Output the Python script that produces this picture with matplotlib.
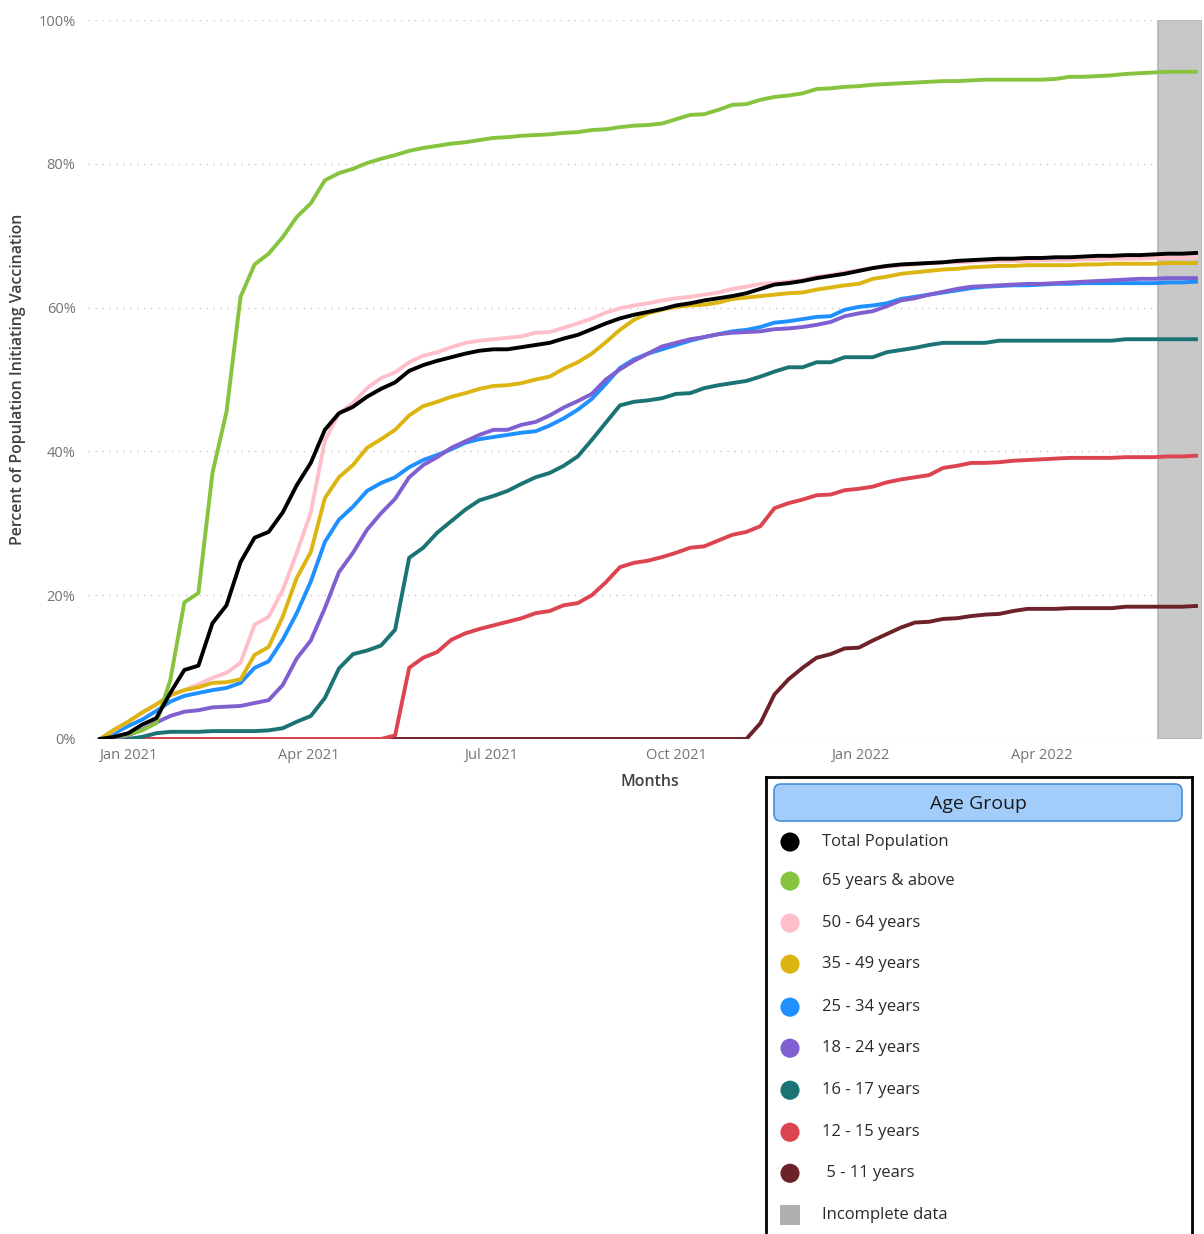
import pandas as pd
import numpy as np
import matplotlib
matplotlib.use("Agg")
import matplotlib.pyplot as plt
import matplotlib.dates as mdates
from matplotlib.patches import FancyBboxPatch, Rectangle

plt.rcParams["font.family"] = ["Open Sans", "DejaVu Sans"]

# weekly points, Dec 2020 - Jun 2022
start_date = "2020-12-18"
n_weeks = 79
incomplete_start = "2022-05-29"

labels = ["Total Population", "65 years & above", "50 - 64 years", "35 - 49 years",
          "25 - 34 years", "18 - 24 years", "16 - 17 years", "12 - 15 years", " 5 - 11 years"]
colors = ["#000000", "#86c440", "#ffbfca", "#dcb512", "#1e90ff", "#8060d0",
          "#1b7373", "#dc4450", "#6d2128"]

total = [0, 0.3, 0.8, 2, 2.9, 6.4, 9.6, 10.2, 16.1, 18.6, 24.6, 28, 28.8, 31.5, 35.3, 38.4,
         43, 45.3, 46.2, 47.6, 48.7, 49.6, 51.2, 52, 52.6, 53.1, 53.6, 54, 54.2, 54.2, 54.5,
         54.8, 55.1, 55.7, 56.2, 57, 57.8, 58.5, 59, 59.4, 59.8, 60.3, 60.6, 61, 61.3, 61.6,
         62, 62.6, 63.2, 63.4, 63.7, 64.1, 64.4, 64.7, 65.1, 65.5, 65.8, 66, 66.1, 66.2, 66.3,
         66.5, 66.6, 66.7, 66.8, 66.8, 66.9, 66.9, 67, 67, 67.1, 67.2, 67.2, 67.3, 67.3, 67.4,
         67.5, 67.5, 67.6]
age_65 = [0, 0.3, 0.6, 1.2, 2.2, 8.2, 19, 20.3, 37, 45.5, 61.5, 66, 67.5, 69.8, 72.6, 74.5,
          77.7, 78.7, 79.3, 80.1, 80.7, 81.2, 81.8, 82.2, 82.5, 82.8, 83, 83.3, 83.6, 83.7,
          83.9, 84, 84.1, 84.3, 84.4, 84.7, 84.8, 85.1, 85.3, 85.4, 85.6, 86.2, 86.8, 86.9,
          87.5, 88.2, 88.3, 88.9, 89.3, 89.5, 89.8, 90.4, 90.5, 90.7, 90.8, 91, 91.1, 91.2,
          91.3, 91.4, 91.5, 91.5, 91.6, 91.7, 91.7, 91.7, 91.7, 91.7, 91.8, 92.1, 92.1, 92.2,
          92.3, 92.5, 92.6, 92.7, 92.8, 92.8, 92.8]
age_50 = [0, 1.2, 2.4, 3.6, 4.8, 6.1, 6.8, 7.6, 8.5, 9.2, 10.6, 15.9, 17, 20.7, 25.9, 31.5,
          41.5, 45.3, 46.7, 48.8, 50.2, 51, 52.4, 53.3, 53.8, 54.5, 55.1, 55.4, 55.6, 55.8,
          56, 56.5, 56.6, 57.2, 57.8, 58.5, 59.3, 59.9, 60.3, 60.6, 61, 61.3, 61.5, 61.8,
          62.1, 62.6, 62.9, 63.3, 63.4, 63.6, 63.8, 64.3, 64.5, 64.9, 65.2, 65.5, 65.7, 65.9,
          66, 66.2, 66.3, 66.3, 66.4, 66.5, 66.5, 66.5, 66.5, 66.6, 66.6, 66.6, 66.7, 66.7,
          66.8, 66.8, 66.8, 66.9, 66.9, 66.9, 67]
age_35 = [0, 1.3, 2.4, 3.7, 4.8, 6.1, 6.8, 7.2, 7.8, 7.9, 8.3, 11.7, 12.8, 17, 22.4, 26,
          33.5, 36.4, 38.1, 40.5, 41.7, 43, 45, 46.3, 46.9, 47.6, 48.1, 48.7, 49.1, 49.2,
          49.5, 50, 50.4, 51.5, 52.4, 53.6, 55.2, 56.9, 58.3, 59.2, 59.7, 60.1, 60.3, 60.4,
          60.7, 61.2, 61.4, 61.6, 61.8, 62, 62.1, 62.5, 62.8, 63.1, 63.3, 64, 64.3, 64.7,
          64.9, 65.1, 65.3, 65.4, 65.6, 65.7, 65.8, 65.8, 65.9, 65.9, 65.9, 65.9, 66, 66,
          66.1, 66.1, 66.1, 66.1, 66.2, 66.2, 66.2]
age_25 = [0, 0.8, 1.8, 2.7, 3.9, 5.2, 6, 6.4, 6.8, 7.1, 7.8, 9.9, 10.8, 13.8, 17.5, 21.9,
          27.4, 30.5, 32.3, 34.5, 35.6, 36.4, 37.8, 38.8, 39.5, 40.3, 41.2, 41.7, 42, 42.3,
          42.6, 42.8, 43.6, 44.6, 45.8, 47.3, 49.4, 51.6, 52.8, 53.6, 54.2, 54.8, 55.4, 55.9,
          56.3, 56.7, 56.9, 57.3, 57.9, 58.1, 58.4, 58.7, 58.8, 59.7, 60.1, 60.3, 60.6, 61.2,
          61.5, 61.8, 62.1, 62.4, 62.7, 62.9, 63, 63.1, 63.1, 63.2, 63.3, 63.3, 63.4, 63.4,
          63.4, 63.4, 63.4, 63.4, 63.5, 63.5, 63.6]
age_18 = [0, 0.1, 0.5, 1.3, 2.3, 3.2, 3.8, 4, 4.4, 4.5, 4.6, 5, 5.4, 7.5, 11.2, 13.7, 18.2,
          23.2, 25.9, 29.1, 31.4, 33.4, 36.4, 38.1, 39.2, 40.5, 41.4, 42.3, 43, 43, 43.7,
          44.1, 45, 46.1, 47, 48, 50, 51.4, 52.6, 53.6, 54.6, 55.1, 55.6, 55.9, 56.3, 56.5,
          56.6, 56.7, 57, 57.1, 57.3, 57.6, 58, 58.8, 59.2, 59.5, 60.2, 61, 61.3, 61.8, 62.2,
          62.6, 62.9, 63, 63.1, 63.2, 63.3, 63.3, 63.4, 63.5, 63.6, 63.7, 63.8, 63.9, 64, 64,
          64.1, 64.1, 64.1]
age_16 = [0, 0, 0, 0.3, 0.8, 1, 1, 1, 1.1, 1.1, 1.1, 1.1, 1.2, 1.5, 2.4, 3.2, 5.7, 9.8,
          11.8, 12.3, 13, 15.2, 25.2, 26.6, 28.7, 30.3, 31.9, 33.2, 33.8, 34.5, 35.5, 36.4,
          37, 38, 39.3, 41.6, 44, 46.4, 46.9, 47.1, 47.4, 48, 48.1, 48.8, 49.2, 49.5, 49.8,
          50.4, 51.1, 51.7, 51.7, 52.4, 52.4, 53.1, 53.1, 53.1, 53.8, 54.1, 54.4, 54.8, 55.1,
          55.1, 55.1, 55.1, 55.4, 55.4, 55.4, 55.4, 55.4, 55.4, 55.4, 55.4, 55.4, 55.6, 55.6,
          55.6, 55.6, 55.6, 55.6]
age_12 = [0] * 21 + [0.5, 9.9, 11.3, 12.1, 13.8, 14.7, 15.3, 15.8, 16.3, 16.8, 17.5, 17.8,
          18.6, 18.9, 20, 21.8, 23.9, 24.5, 24.8, 25.3, 25.9, 26.6, 26.8, 27.6, 28.4, 28.8,
          29.6, 32.1, 32.8, 33.3, 33.9, 34, 34.6, 34.8, 35.1, 35.7, 36.1, 36.4, 36.7, 37.7,
          38, 38.4, 38.4, 38.5, 38.7, 38.8, 38.9, 39, 39.1, 39.1, 39.1, 39.1, 39.2, 39.2,
          39.2, 39.3, 39.3, 39.4]
age_5 = [0] * 47 + [2.2, 6.2, 8.3, 9.9, 11.3, 11.8, 12.6, 12.7, 13.7, 14.6, 15.5, 16.2,
         16.3, 16.7, 16.8, 17.1, 17.3, 17.4, 17.8, 18.1, 18.1, 18.1, 18.2, 18.2, 18.2, 18.2,
         18.4, 18.4, 18.4, 18.4, 18.4, 18.5]

series = [total, age_65, age_50, age_35, age_25, age_18, age_16, age_12, age_5]
dates = pd.date_range(start_date, periods=n_weeks, freq="7D")

W, H = 1204, 1234
fig = plt.figure(figsize=(W / 100, H / 100), dpi=100)
ax = fig.add_axes([88 / W, 1 - 739 / H, (1202 - 88) / W, (739 - 20) / H])

ax.set_xlim(pd.Timestamp("2020-12-12"), pd.Timestamp("2022-06-20"))
ax.set_ylim(0, 100)

# incomplete data band
ax.axvspan(pd.Timestamp(incomplete_start), pd.Timestamp("2022-06-20"),
           facecolor="#c8c8c8", edgecolor="#b4b4b4", lw=1.2, zorder=2)

draw_order = [8, 7, 6, 4, 5, 2, 3, 1, 0]
for k in draw_order:
    ax.plot(dates, series[k], color=colors[k], lw=2.8, zorder=3 + draw_order.index(k),
            solid_joinstyle="round")

ax.set_yticks([0, 20, 40, 60, 80, 100])
ax.set_yticklabels(["0%", "20%", "40%", "60%", "80%", "100%"])
ax.grid(axis="y", linestyle=(0, (1, 4)), color="#c8c8c8", lw=1, zorder=1)
ax.set_axisbelow(True)

ticks = pd.to_datetime(["2021-01-01", "2021-04-01", "2021-07-01", "2021-10-01",
                        "2022-01-01", "2022-04-01"])
ax.set_xticks(ticks)
ax.xaxis.set_major_formatter(mdates.DateFormatter("%b %Y"))
ax.tick_params(axis="both", length=0, labelsize=10.5, labelcolor="#747474")
ax.tick_params(axis="y", pad=9)
ax.tick_params(axis="x", pad=6.5)
for s in ax.spines.values():
    s.set_visible(False)

ax.set_xlabel("Months", fontsize=11.5, color="#404040", fontweight="semibold")
ax.xaxis.set_label_coords(0.5045, -0.048)
ax.set_ylabel("Percent of Population Initiating Vaccination", fontsize=11.4,
              color="#404040", fontweight="semibold")
ax.yaxis.set_label_coords(-0.056, 0.5)

# legend panel
lx0, ly0, lx1 = 766, 777, 1192
lg = fig.add_axes([lx0 / W, -0.01, (lx1 - lx0) / W, (H - ly0) / H + 0.01])
lg.set_xlim(lx0, lx1)
lg.set_ylim(H + 12, ly0)
lg.set_xticks([])
lg.set_yticks([])
for s in lg.spines.values():
    s.set_linewidth(2)
    s.set_color("#000000")
lg.spines["bottom"].set_visible(False)

hdr = FancyBboxPatch((774, 784), 408, 37, boxstyle="round,pad=0,rounding_size=7",
                     facecolor="#a2cdfb", edgecolor="#4a90d9", lw=1.2)
lg.add_patch(hdr)
lg.text(978, 804, "Age Group", fontsize=14, color="#1a1a1a", ha="center", va="center")

entry_y = [842, 881, 923, 964, 1007, 1048, 1090, 1132, 1173]
for lab, col, yy in zip(labels, colors, entry_y):
    lg.scatter([790], [yy], s=190, color=col, edgecolor="none", zorder=3)
    lg.text(822, yy, lab, fontsize=12, color="#2a2a2a", va="center")
lg.add_patch(Rectangle((780, 1205), 20, 20, facecolor="#b0b0b0", edgecolor="none"))
lg.text(822, 1215, "Incomplete data", fontsize=12, color="#2a2a2a", va="center")

fig.savefig("out.png", dpi=100)
